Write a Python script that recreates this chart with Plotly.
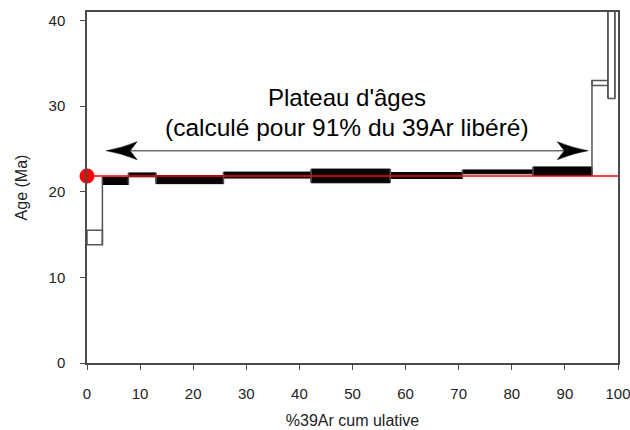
import plotly.graph_objects as go

# ---- data ----
step_x0 = [0.0, 2.9, 7.8, 13.0, 25.7, 42.2, 57.1, 70.7, 84.0, 95.1, 98.1, 99.4]
step_x1 = [2.9, 7.8, 13.0, 25.7, 42.2, 57.1, 70.7, 84.0, 95.1, 98.1, 99.4, 100.0]
age_lo = [13.8, 20.85, 21.75, 20.95, 21.6, 21.05, 21.55, 22.1, 21.9, 32.4, 30.9, 55.0]
age_hi = [15.5, 21.7, 22.2, 21.9, 22.3, 22.65, 22.25, 22.55, 22.9, 33.0, 52.0, 60.0]
in_plateau = [False, True, True, True, True, True, True, True, True, False, False, False]
plateau_age = 21.85
x_ticks = [0, 10, 20, 30, 40, 50, 60, 70, 80, 90, 100]
y_ticks = [0, 10, 20, 30, 40]
label_line1 = "Plateau d'âges"
label_line2 = "(calculé pour 91% du 39Ar libéré)"
x_title = "%39Ar cum ulative"
y_title = "Age (Ma)"

# annotation layout constants
arrow_y = 24.8
arrow_left = 3.6
arrow_right = 94.4
text_x = 49.0
text_y1 = 31.05
text_y2 = 27.55

FONT = "Liberation Sans, Arial, sans-serif"
AXIS_COL = "#4a4a4a"

fig = go.Figure()

# step boxes
for x0, x1, lo, hi, p in zip(step_x0, step_x1, age_lo, age_hi, in_plateau):
    fig.add_trace(go.Scatter(
        x=[x0, x1, x1, x0, x0], y=[lo, lo, hi, hi, lo],
        mode="lines", fill="toself",
        fillcolor="black" if p else "white",
        line=dict(color="black" if p else "#555555", width=1 if p else 1.5),
        hoverinfo="skip", showlegend=False))

# vertical connectors between consecutive steps
cx, cy = [], []
for i in range(len(step_x1) - 1):
    xb = step_x1[i]
    lo = min(age_lo[i], age_lo[i + 1])
    hi = max(age_hi[i], age_hi[i + 1])
    if age_hi[i] < age_lo[i + 1]:
        lo, hi = age_lo[i], age_hi[i + 1]
    elif age_hi[i + 1] < age_lo[i]:
        lo, hi = age_lo[i + 1], age_hi[i]
    cx += [xb, xb, None]
    cy += [lo, hi, None]
fig.add_trace(go.Scatter(x=cx, y=cy, mode="lines",
                         line=dict(color="#555555", width=1.5),
                         hoverinfo="skip", showlegend=False))

# plateau age line
fig.add_trace(go.Scatter(x=[0, 100], y=[plateau_age, plateau_age], mode="lines",
                         line=dict(color="red", width=1.5),
                         hoverinfo="skip", showlegend=False))
# plateau age dot
fig.add_trace(go.Scatter(x=[0], y=[plateau_age], mode="markers",
                         marker=dict(color="red", size=15, line=dict(width=0)),
                         cliponaxis=False, hoverinfo="skip", showlegend=False))

# arrow
fig.add_shape(type="line", x0=arrow_left + 1, x1=arrow_right - 1, y0=arrow_y, y1=arrow_y,
              xref="x", yref="y", line=dict(color="#6e6e6e", width=1.5))
left_head = "M0,0 Q15,2.5 31,9 L24,0 L31,-9 Q15,-2.5 0,0 Z"
right_head = "M0,0 Q-15,2.5 -31,9 L-24,0 L-31,-9 Q-15,-2.5 0,0 Z"
for anchor, path in [(arrow_left, left_head), (arrow_right, right_head)]:
    fig.add_shape(type="path", xref="x", yref="y",
                  xsizemode="pixel", ysizemode="pixel",
                  xanchor=anchor, yanchor=arrow_y, path=path,
                  fillcolor="black", line=dict(color="black", width=0.5))

fig.add_annotation(x=text_x, y=text_y1, text=label_line1, showarrow=False,
                   font=dict(family=FONT, size=24, color="black"))
fig.add_annotation(x=text_x, y=text_y2, text=label_line2, showarrow=False,
                   font=dict(family=FONT, size=24.5, color="black"))

fig.update_layout(
    width=630, height=430,
    margin=dict(l=87, r=12, t=12, b=67, autoexpand=False),
    plot_bgcolor="white", paper_bgcolor="white",
    font=dict(family=FONT, color="#222222"),
    showlegend=False,
)
fig.update_xaxes(
    range=[0, 100], tickvals=x_ticks, ticktext=[str(v) for v in x_ticks],
    showgrid=False, zeroline=False, automargin=False,
    showline=True, linecolor=AXIS_COL, linewidth=1.5, mirror=True,
    ticks="outside", ticklen=5, tickcolor=AXIS_COL, tickwidth=1,
    tickfont=dict(family=FONT, size=15, color="#222222"),
    ticklabelstandoff=11, ticklabeloverflow="allow",
    title=dict(text=x_title, font=dict(family=FONT, size=16, color="#222222"), standoff=14),
)
fig.update_yaxes(
    range=[0, 41], tickvals=y_ticks, ticktext=[str(v) for v in y_ticks],
    showgrid=False, zeroline=False, automargin=False,
    showline=True, linecolor=AXIS_COL, linewidth=1.5, mirror=True,
    ticks="outside", ticklen=5, tickcolor=AXIS_COL, tickwidth=1,
    tickfont=dict(family=FONT, size=15, color="#222222"),
    ticklabelstandoff=12,
    title=dict(text=y_title, font=dict(family=FONT, size=16, color="#222222"), standoff=17),
)

# remove the default 8px page margin so the figure fills the window exactly
fig.write_html("out.html", config={"displayModeBar": False},
               post_script="document.body.style.margin='0';")
